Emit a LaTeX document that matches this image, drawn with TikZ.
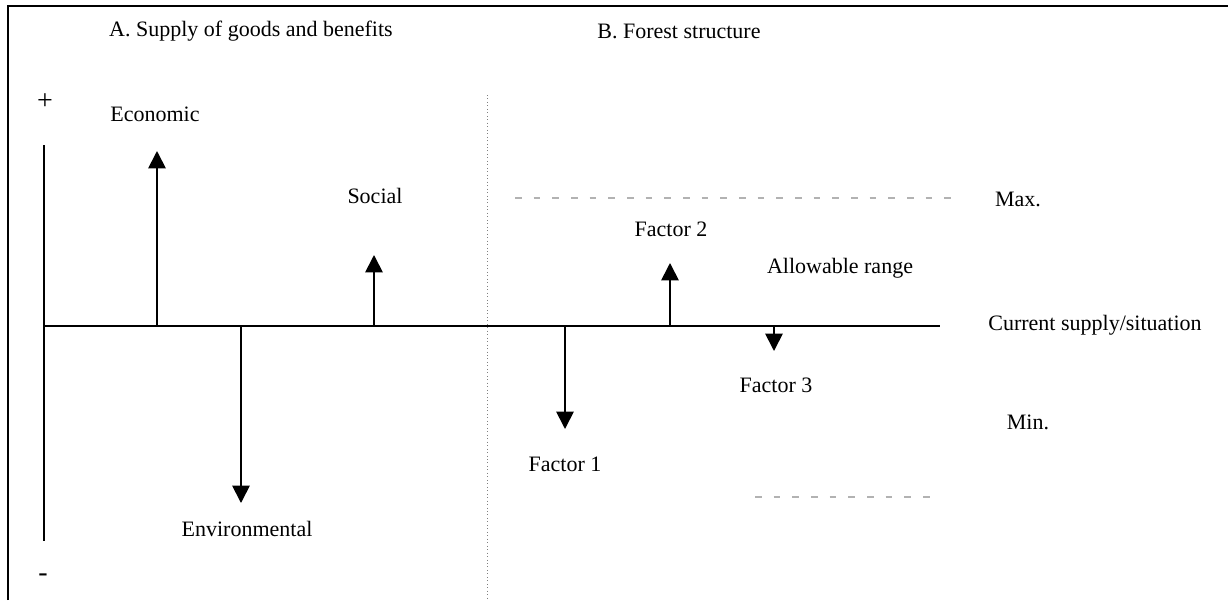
\documentclass[tikz,border=0pt]{standalone}
\usepackage{fontspec}
\setmainfont{Liberation Serif}
\usetikzlibrary{arrows.meta}
\begin{document}
\begin{tikzpicture}[x=0.75pt,y=-0.75pt,
  lbl/.style={font=\fontsize{16.5}{19}\selectfont,inner sep=0pt,anchor=center},
  sign/.style={font=\fontsize{21}{24}\selectfont,inner sep=0pt,anchor=center},
  axis/.style={line width=1.5pt,black},
  frame/.style={line width=1.1pt,black},
  vec/.style={line width=1.3pt,-{Triangle[width=13pt,length=13pt]}},
  lim/.style={gray!60,line width=0.8pt,dash pattern=on 5pt off 9pt},
  sep/.style={gray,line width=0.6pt,dotted}]
\useasboundingbox (0,0) rectangle (1228,600);
% frame
\draw[frame] (8,600) -- (8,6) -- (1228,6);
% titles
\node[lbl] (tA) at (251,31) {A. Supply of goods and benefits};
\node[lbl] (tB) at (679,31) {B. Forest structure};
% axis
\node[sign] (plus) at (45,102) {+};
\node[sign] (minus) at (43,578) {-};
\coordinate (vtop) at (44,145);
\coordinate (vbot) at (44,541);
\coordinate (o) at (44,326);
\coordinate (hend) at (940,326);
\draw[axis] (vtop) -- (vbot);
\draw[axis] (o) -- (hend);
% separator
\coordinate (stop) at (487,95);
\coordinate (sbot) at (487,600);
\draw[sep] (stop) -- (sbot);
% A arrows
\node[lbl] (eco) at (155,114) {Economic};
\coordinate (ecoB) at (157,326);
\coordinate (ecoT) at (157,151);
\draw[vec] (ecoB) -- (ecoT);
\node[lbl] (soc) at (375,196) {Social};
\coordinate (socB) at (374,326);
\coordinate (socT) at (374,255);
\draw[vec] (socB) -- (socT);
\node[lbl] (env) at (247,529) {Environmental};
\coordinate (envB) at (241,326);
\coordinate (envT) at (241,503);
\draw[vec] (envB) -- (envT);
% B limits
\coordinate (maxL) at (515,198);
\coordinate (maxR) at (955,198);
\draw[lim] (maxL) -- (maxR);
\node[lbl] (max) at (1018,199) {Max.};
\coordinate (minL) at (755,497);
\coordinate (minR) at (935,497);
\draw[lim] (minL) -- (minR);
\node[lbl] (min) at (1028,422) {Min.};
\node[lbl] (allow) at (840,268) {Allowable range};
\node[lbl] (cur) at (1095,325) {Current supply/situation};
% factors
\node[lbl] (f2) at (671,229) {Factor 2};
\coordinate (f2B) at (670,326);
\coordinate (f2T) at (670,263);
\draw[vec] (f2B) -- (f2T);
\node[lbl] (f3) at (776,385) {Factor 3};
\coordinate (f3B) at (774,326);
\coordinate (f3T) at (774,351);
\draw[vec] (f3B) -- (f3T);
\node[lbl] (f1) at (565,464) {Factor 1};
\coordinate (f1B) at (565,326);
\coordinate (f1T) at (565,429);
\draw[vec] (f1B) -- (f1T);
\end{tikzpicture}
\end{document}
